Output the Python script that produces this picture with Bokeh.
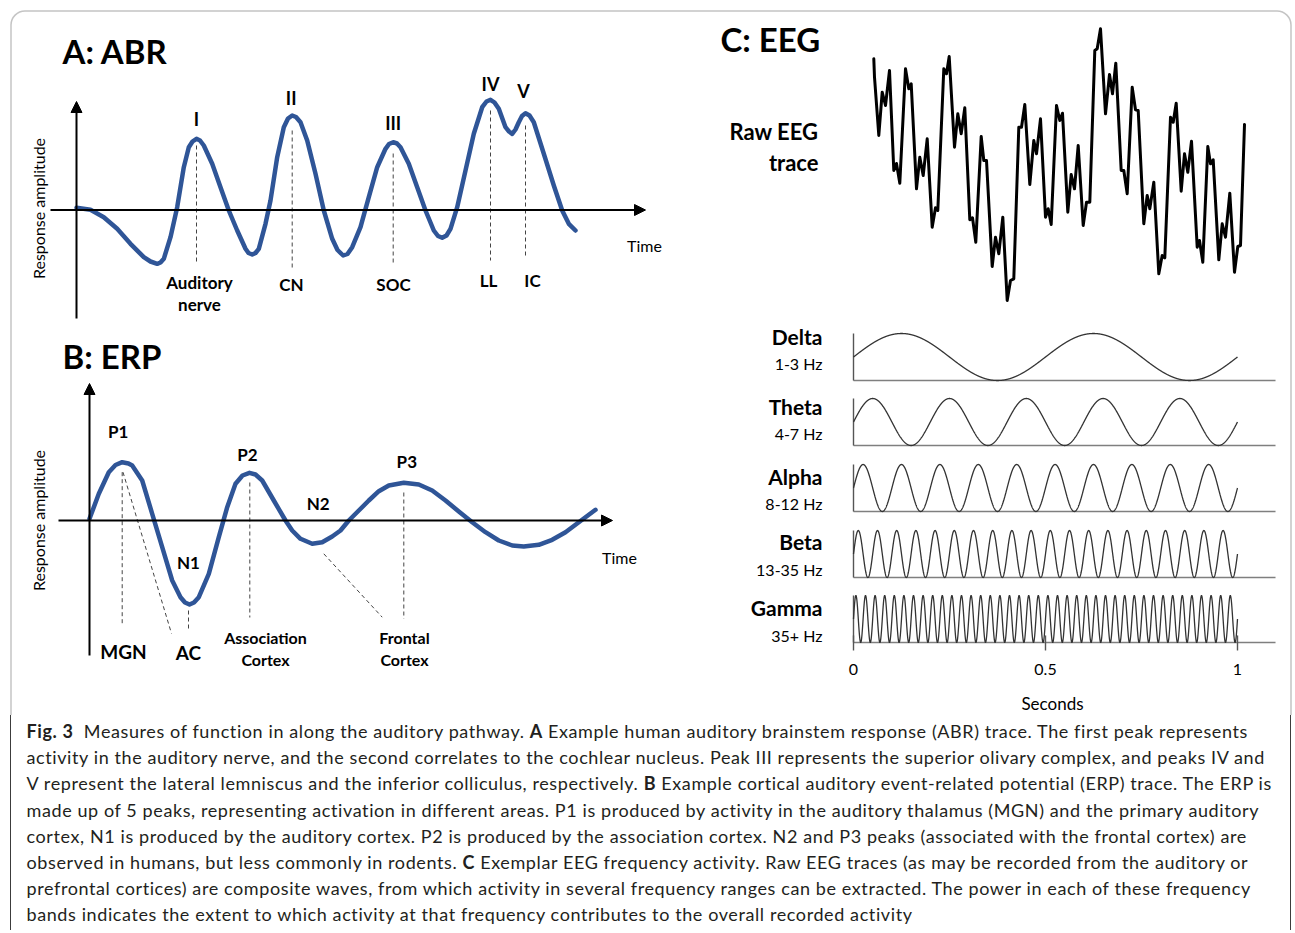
import numpy as np
from bokeh.plotting import figure
from bokeh.models import Range1d, Arrow, NormalHead, BoxAnnotation, Div
from bokeh.layouts import column
from bokeh.embed import file_html
from bokeh.resources import INLINE
from bokeh.core.properties import value

# ---------------- data ----------------
# A: ABR trace (arbitrary time units, arbitrary amplitude units)
abr_t = [0.0, 1.4, 2.73, 4.07, 5.4, 6.73, 7.4, 8.07, 8.4, 8.73, 9.4, 10.07, 10.73, 11.23, 11.6, 12.0,
         12.35, 12.73, 13.57, 14.4, 15.23, 16.07, 16.9, 17.2, 17.57, 17.9, 18.23, 18.9, 19.4, 20.07,
         20.73, 21.15, 21.57, 21.95, 22.4, 23.07, 23.9, 24.73, 25.57, 26.1, 26.67, 27.1, 27.57, 28.4,
         29.23, 30.07, 30.9, 31.25, 31.67, 32.05, 32.4, 33.23, 34.07, 34.9, 35.73, 36.15, 36.57, 37.0,
         37.4, 38.07, 38.9, 39.73, 40.57, 41.0, 41.4, 41.8, 42.23, 42.9, 43.25, 43.57, 43.9, 44.23,
         44.55, 44.9, 45.3, 45.73, 46.73, 47.73, 48.57, 49.23, 49.9]
abr_amp = [0.22, 0.02, -0.72, -1.88, -3.38, -4.72, -5.15, -5.38, -5.25, -4.88, -2.72, 0.28, 4.28, 6.28, 6.85, 7.12,
           6.95, 6.45, 4.62, 2.28, -0.05, -2.05, -3.88, -4.3, -4.45, -4.3, -3.88, -1.38, 0.95, 5.28,
           8.28, 9.15, 9.45, 9.3, 8.78, 6.95, 3.62, -0.05, -2.88, -4.0, -4.55, -4.4, -3.72, -1.72,
           1.28, 4.28, 6.12, 6.6, 6.78, 6.65, 6.28, 4.62, 2.28, -0.05, -2.05, -2.6, -2.78, -2.55,
           -1.88, 0.28, 3.95, 7.62, 10.28, 10.85, 11.02, 10.75, 10.12, 8.28, 7.85, 7.62, 8.05, 8.78,
           9.4, 9.68, 9.45, 8.78, 5.62, 2.45, -0.05, -1.38, -2.05]
abr_peak_names = ["I", "II", "III", "IV", "V"]
abr_peak_t = [12.0, 21.57, 31.67, 41.4, 44.9]
abr_peak_amp = [7.12, 9.45, 6.78, 11.02, 9.68]
abr_sites = [["Auditory", "nerve"], ["CN"], ["SOC"], ["LL"], ["IC"]]

# B: ERP trace
erp_t = [0.0, 0.93, 1.93, 2.6, 3.27, 3.9, 4.27, 5.27, 6.27, 7.27, 8.27, 9.1, 9.55, 10.0, 10.45, 10.93,
         11.93, 12.93, 13.77, 14.6, 15.3, 16.0, 16.6, 17.27, 18.43, 19.6, 20.27, 21.1, 22.27, 23.27,
         24.27, 25.1, 25.93, 26.93, 27.93, 28.93, 29.93, 31.43, 32.93, 34.27, 35.6, 36.93, 38.27,
         39.6, 40.93, 42.27, 43.43, 44.93, 46.27, 47.6, 48.93, 50.6]
erp_amp = [0.17, 2.67, 4.83, 5.55, 5.83, 5.7, 5.5, 4.0, 0.67, -2.67, -6.0, -7.67, -8.2, -8.4, -8.2, -7.67,
           -5.33, -1.67, 1.33, 3.67, 4.5, 4.77, 4.6, 4.0, 2.0, 0.0, -1.0, -1.83, -2.33, -2.17,
           -1.6, -1.0, 0.0, 1.0, 2.0, 2.93, 3.5, 3.77, 3.6, 3.0, 2.0, 0.9, -0.17,
           -1.17, -2.0, -2.5, -2.6, -2.43, -1.93, -1.17, -0.17, 1.07]
erp_peak_names = ["P1", "N1", "P2", "N2", "P3"]
erp_peak_t = [3.27, 10.0, 16.0, 22.27, 31.43]
erp_peak_amp = [5.83, -8.4, 4.77, -2.33, 3.77]
erp_sites = [["MGN"], ["AC"], ["Association", "Cortex"], ["Frontal", "Cortex"]]

# C: raw EEG trace
eeg_raw_t = [0.03, 0.1, 0.53, 0.87, 1.2, 1.6, 2.03, 2.3, 2.63, 3.2, 3.53, 3.77, 4.3, 4.63, 4.97, 5.37,
             5.87, 6.2, 6.43, 7.03, 7.3, 7.57, 8.1, 8.43, 8.77, 9.13, 9.63, 9.9, 10.23, 10.77, 11.03,
             11.3, 11.87, 12.2, 12.53, 12.93, 13.37, 13.7, 14.03, 14.53, 14.8, 15.13, 15.63, 16.03,
             16.3, 16.7, 17.2, 17.47, 17.77, 18.3, 18.63, 18.9, 19.43, 19.77, 20.1, 20.47, 20.97,
             21.3, 21.63, 22.13, 22.37, 22.7, 23.2, 23.6, 23.9, 24.23, 24.77, 25.03, 25.37, 25.87,
             26.2, 26.47, 27.03, 27.37, 27.63, 28.03, 28.53, 28.87, 29.13, 29.7, 29.97, 30.27, 30.77,
             31.1, 31.43, 31.8, 32.37, 32.6, 32.93, 33.43, 33.7, 33.97, 34.53, 34.87, 35.2, 35.63,
             36.1, 36.43, 36.7, 37.1]
eeg_raw_v = [10.67, 8.83, 3.0, 7.33, 6.0, 9.5, -0.5, 0.2, -1.77, 9.67, 7.67, 8.17, -2.33, 0.83, -1.0, 2.67,
             -6.17, -4.23, -4.5, 9.67, 9.17, 10.9, 1.83, 5.17, 3.17, 5.77, -5.43, -5.23, -7.67, 2.9, 0.5,
             0.5, -10.1, -7.17, -8.83, -5.17, -13.5, -11.5, -11.33, 3.83, 3.83, 6.1, -1.9, 2.5,
             1.17, 4.67, -5.17, -4.33, -5.9, 6.0, 4.5, 5.23, -4.67, -0.9, -2.33, 2.0, -6.0,
             -3.67, -3.67, 11.5, 11.67, 13.67, 5.17, 9.1, 7.17, 10.23, -0.5, -0.5, -2.83, 7.83,
             5.57, 5.5, -5.83, -3.0, -4.33, -1.67, -10.83, -9.0, -9.23, 4.83, 4.33, 6.23, -2.57,
             1.17, -0.67, 2.43, -8.17, -7.5, -9.67, 1.9, 0.17, 0.57, -9.43, -5.83, -7.17, -2.77,
             -10.67, -8.1, -8.0, 4.1]

# C: frequency bands (one second of a representative oscillation each)
band_names = ["Delta", "Theta", "Alpha", "Beta", "Gamma"]
band_ranges = ["1-3 Hz", "4-7 Hz", "8-12 Hz", "13-35 Hz", "35+ Hz"]
band_freq_hz = [2, 5, 10, 20, 40]
time_ticks = [0, 0.5, 1]
time_tick_labels = ["0", "0.5", "1"]

# ---------------- layout / style ----------------
FONT = value("Lato")
BLUE = "#2F5597"
X0, X1 = 0, 1295      # page px of frame left/right
YT, YB = 0, 715       # page px of frame top/bottom


def xr(origin_px, px_per_unit):
    return Range1d((X0 - origin_px) / px_per_unit, (X1 - origin_px) / px_per_unit)


def yr(origin_px, px_per_unit):
    return Range1d((origin_px - YB) / px_per_unit, (origin_px - YT) / px_per_unit)


band_base = [380, 445, 511, 577, 642]
band_amp_px = 23.5

p = figure(width=X1 - X0, height=YB - YT, x_range=Range1d(X0, X1), y_range=Range1d(YB, YT),
           output_backend="svg", toolbar_location=None, min_border=0,
           x_axis_location=None, y_axis_location=None, outline_line_color=None,
           background_fill_color="white", border_fill_color="white")
p.grid.visible = False

p.extra_x_ranges = {"abr": xr(76, 10), "erp": xr(89, 10), "raw": xr(873, 10), "sec": xr(853, 384)}
yranges = {"abr": yr(209.5, 10), "erp": yr(520, 10), "raw": yr(165, 10)}
for i, b in enumerate(band_base):
    yranges[f"band{i}"] = yr(b - band_amp_px, band_amp_px)
p.extra_y_ranges = yranges

# outer rounded frame
p.add_layout(BoxAnnotation(left=10.5, right=1290.5, top=10.5, bottom=3000,
                           left_units="canvas", right_units="canvas", top_units="canvas", bottom_units="canvas",
                           fill_alpha=0, line_color="#3c3c3c", line_width=1.5, border_radius=14))


def txt(x, y, s, size, bold=False, align="center", **kw):
    p.text(x=x, y=y, text=s, text_font=FONT, text_font_size=size,
           text_font_style="bold" if bold else "normal", text_align=align,
           text_baseline="middle", text_color="black", **kw)


def head():
    return NormalHead(size=11, fill_color="black", line_color="black", line_width=1)


# ---- Panel A: ABR ----
txt([62], [50], ["A: ABR"], "33px", bold=True, align="left")
p.add_layout(Arrow(end=head(), x_start=0, y_start=-10.85, x_end=0, y_end=10.85,
                   x_range_name="abr", y_range_name="abr", line_color="black", line_width=2))
p.add_layout(Arrow(end=head(), x_start=-2.6, y_start=0, x_end=56.9, y_end=0,
                   x_range_name="abr", y_range_name="abr", line_color="black", line_width=2))
abr_guide_top = [6.45, 7.95, 5.65, 9.95, 8.45]
abr_guide_bot = [-5.35, -5.75, -5.35, -5.05, -4.72]
p.segment(x0=abr_peak_t, y0=abr_guide_top, x1=abr_peak_t, y1=abr_guide_bot,
          x_range_name="abr", y_range_name="abr", line_color="#444444", line_width=1, line_dash="4 3")
p.line(abr_t, abr_amp, x_range_name="abr", y_range_name="abr", line_color=BLUE, line_width=4.5,
       line_join="round", line_cap="round")
txt(abr_peak_t, abr_peak_amp, abr_peak_names, "18px", bold=True,
    x_range_name="abr", y_range_name="abr", y_offset=[-20, -18, -19, -16, -22], x_offset=[0, -1, 0, 0, -2])
site_x = [199, 291, 393, 488, 532]
site_y = [282, 284, 284, 280, 280]
for sx, sy, lines in zip(site_x, site_y, abr_sites):
    txt([sx] * len(lines), [sy + 22 * k for k in range(len(lines))], lines, "17px", bold=True)
txt([644], [245], ["Time"], "16px")
txt([38], [208], ["Response amplitude"], "16px", angle=np.pi / 2)

# ---- Panel B: ERP ----
txt([62], [355], ["B: ERP"], "33px", bold=True, align="left")
p.add_layout(Arrow(end=head(), x_start=0, y_start=-13.5, x_end=0, y_end=13.7,
                   x_range_name="erp", y_range_name="erp", line_color="black", line_width=2))
p.add_layout(Arrow(end=head(), x_start=-3.1, y_start=0, x_end=52.3, y_end=0,
                   x_range_name="erp", y_range_name="erp", line_color="black", line_width=2))
erp_gx0 = [3.27, 3.35, 9.9, 16.03, 23.43, 31.43]
erp_gy0 = [4.83, 4.83, -9.0, 3.8, -3.33, 2.8]
erp_gx1 = [3.27, 8.2, 9.9, 16.03, 29.27, 31.43]
erp_gy1 = [-10.5, -11.3, -10.8, -9.7, -9.67, -9.83]
p.segment(x0=erp_gx0, y0=erp_gy0, x1=erp_gx1, y1=erp_gy1, x_range_name="erp", y_range_name="erp",
          line_color="#444444", line_width=1, line_dash="4 3")
p.line(erp_t, erp_amp, x_range_name="erp", y_range_name="erp", line_color=BLUE, line_width=4.5,
       line_join="round", line_cap="round")
txt(erp_peak_t, erp_peak_amp, erp_peak_names, "17px", bold=True,
    x_range_name="erp", y_range_name="erp", y_offset=[-31, -42, -18, -40, -21], x_offset=[-4, -1, -2, 6, 3])
esite_x = [123, 188, 265, 404]
esite_y = [651, 652, 637, 637]
esite_size = ["19px", "19px", "16px", "16px"]
for sx, sy, lines, fs in zip(esite_x, esite_y, erp_sites, esite_size):
    txt([sx] * len(lines), [sy + 22 * k for k in range(len(lines))], lines, fs, bold=True)
txt([619], [557], ["Time"], "16px")
txt([38], [520], ["Response amplitude"], "16px", angle=np.pi / 2)

# ---- Panel C: EEG ----
txt([720], [38], ["C: EEG"], "33px", bold=True, align="left")
txt([818, 818], [131, 162], ["Raw EEG", "trace"], "22px", bold=True, align="right")
p.line(eeg_raw_t, eeg_raw_v, x_range_name="raw", y_range_name="raw", line_color="black", line_width=3,
       line_join="round", line_cap="round")

name_y = [336, 406, 476, 541, 607]
range_y = [363, 433, 503, 569, 635]
tt = np.linspace(0, 1, 2401)
for i, f in enumerate(band_freq_hz):
    rn = f"band{i}"
    p.segment(x0=[0], y0=[-1], x1=[1.099], y1=[-1], x_range_name="sec", y_range_name=rn,
              line_color="#7f7f7f", line_width=1.6)
    p.segment(x0=[0], y0=[-1], x1=[0], y1=[1.0], x_range_name="sec", y_range_name=rn,
              line_color="#555555", line_width=1.4)
    p.line(tt, np.sin(2 * np.pi * f * tt), x_range_name="sec", y_range_name=rn,
           line_color="#333333", line_width=1.3)
txt([822] * 5, name_y, band_names, "21px", bold=True, align="right")
txt([822] * 5, range_y, band_ranges, "16px", align="right")
p.segment(x0=time_ticks, y0=[-0.7] * 3, x1=time_ticks, y1=[-1.34] * 3, x_range_name="sec",
          y_range_name="band4", line_color="#555555", line_width=1.4)
txt(time_ticks, [669] * 3, time_tick_labels, "16px", x_range_name="sec")
txt([1052], [703], ["Seconds"], "17px")

# ---------------- caption ----------------
lines = [
    "<b>Fig. 3</b>&nbsp; Measures of function in along the auditory pathway. <b>A</b> Example human auditory brainstem response (ABR) trace. The first peak represents",
    "activity in the auditory nerve, and the second correlates to the cochlear nucleus. Peak III represents the superior olivary complex, and peaks IV and",
    "V represent the lateral lemniscus and the inferior colliculus, respectively. <b>B</b> Example cortical auditory event-related potential (ERP) trace. The ERP is",
    "made up of 5 peaks, representing activation in different areas. P1 is produced by activity in the auditory thalamus (MGN) and the primary auditory",
    "cortex, N1 is produced by the auditory cortex. P2 is produced by the association cortex. N2 and P3 peaks (associated with the frontal cortex) are",
    "observed in humans, but less commonly in rodents. <b>C</b> Exemplar EEG frequency activity. Raw EEG traces (as may be recorded from the auditory or",
    "prefrontal cortices) are composite waves, from which activity in several frequency ranges can be extracted. The power in each of these frequency",
    "bands indicates the extent to which activity at that frequency contributes to the overall recorded activity",
]
html = ('<div style="box-sizing:border-box;height:215px;width:1281.5px;border-left:1.5px solid #3c3c3c;'
        'border-right:1.5px solid #3c3c3c;margin-left:9.75px;padding-left:15.75px;padding-top:3px;'
        "font-family:'Lato';font-size:18px;letter-spacing:0.6px;line-height:26.2px;color:#231f20;white-space:nowrap;\">"
        + "<br>".join(lines) + "</div>")
cap = Div(text=html, width=1295, height=215, styles={"margin": "0", "padding": "0"})

layout = column(p, cap, spacing=0)
open("out.html", "w").write(file_html(layout, INLINE))
